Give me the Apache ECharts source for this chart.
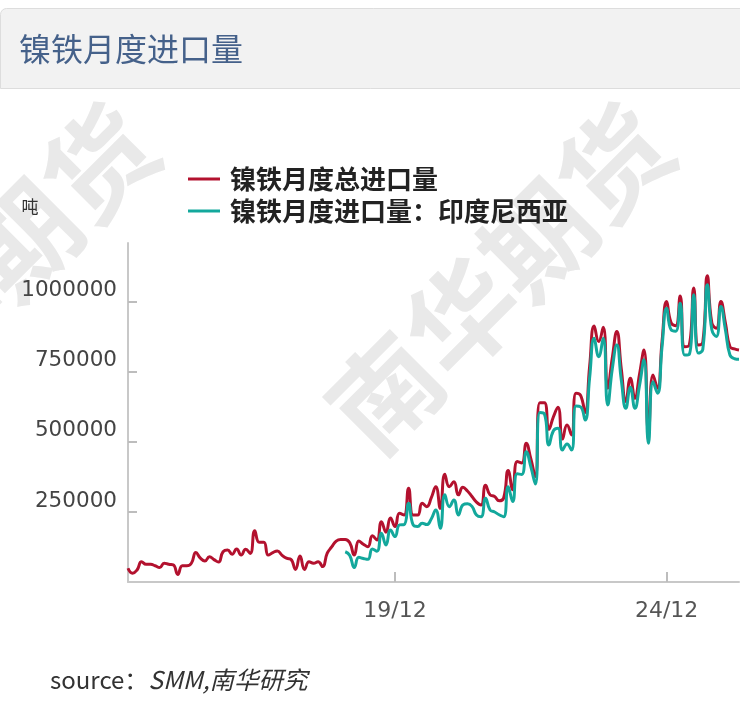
<!DOCTYPE html>
<html>
<head>
<meta charset="utf-8">
<script src="https://cdn.jsdelivr.net/npm/echarts@6/dist/echarts.min.js"></script>
<style>
html,body{margin:0;padding:0;background:#fff;}
#c{width:740px;height:702px;}
</style>
</head>
<body>
<div id="c"></div>
<script>
// ---- data ----
const startYear = 2015;
const startMonth = 1;
const monthCount = 136;

const totalImports = [
  49000, 31000, 43000, 72000, 63000, 63000, 58000, 52000, 67000, 63000,
  61000, 27000, 58000, 58000, 67000, 105000, 85000, 75000, 90000, 80000,
  71000, 108000, 114000, 99000, 118000, 96000, 117000, 102000, 183000, 142000,
  142000, 96000, 105000, 111000, 96000, 85000, 81000, 45000, 93000, 45000,
  72000, 67000, 72000, 55000, 102000, 125000, 146000, 152000, 152000, 140000,
  96000, 146000, 135000, 126000, 165000, 150000, 215000, 178000, 228000, 198000,
  245000, 239000, 335000, 239000, 239000, 281000, 269000, 300000, 340000, 263000,
  385000, 340000, 358000, 311000, 338000, 325000, 305000, 285000, 275000, 345000,
  311000, 305000, 290000, 300000, 398000, 329000, 430000, 425000, 495000, 440000,
  376000, 640000, 640000, 545000, 590000, 624000, 510000, 560000, 525000, 674000,
  666000, 605000, 770000, 914000, 858000, 909000, 692000, 800000, 894000, 760000,
  644000, 727000, 656000, 740000, 828000, 530000, 739000, 692000, 860000, 1001000,
  925000, 915000, 1021000, 840000, 845000, 1049000, 846000, 855000, 1093000, 924000,
  906000, 1001000, 924000, 840000, 832000, 828000
];

const indonesiaStart = '19/01';
const indonesiaImports = [
  108000, 95000, 52000, 88000, 84000, 81000, 118000, 110000, 174000, 132000,
  186000, 162000, 204000, 205000, 281000, 204000, 198000, 210000, 205000, 225000,
  257000, 192000, 311000, 269000, 293000, 239000, 275000, 279000, 270000, 239000,
  233000, 299000, 257000, 250000, 240000, 233000, 340000, 287000, 386000, 384000,
  465000, 412000, 350000, 605000, 600000, 489000, 540000, 549000, 471000, 493000,
  471000, 628000, 625000, 578000, 730000, 870000, 804000, 870000, 632000, 760000,
  846000, 720000, 620000, 695000, 620000, 700000, 793000, 495000, 715000, 674000,
  840000, 977000, 900000, 895000, 995000, 810000, 812000, 1025000, 817000, 830000,
  1061000, 900000, 876000, 983000, 900000, 810000, 797000, 795000
];

const yTicks = [250000, 500000, 750000, 1000000];
const xTickLabels = ['19/12', '24/12'];

const seriesNames = ['镍铁月度总进口量', '镍铁月度进口量：印度尼西亚'];

// ---- build ----
const categories = [];
for (let k = 0; k < monthCount; k++) {
  const y = startYear + Math.floor((startMonth - 1 + k) / 12);
  const m = (startMonth - 1 + k) % 12 + 1;
  categories.push(String(y % 100).padStart(2, '0') + '/' + String(m).padStart(2, '0'));
}
const indoOffset = categories.indexOf(indonesiaStart);
const indoData = categories.map((c, i) => {
  const j = i - indoOffset;
  return (j >= 0 && j < indonesiaImports.length) ? indonesiaImports[j] : null;
});

const showX = (i, v) => xTickLabels.indexOf(v) >= 0;

const chart = echarts.init(document.getElementById('c'), null, {renderer: 'canvas'});

const wmFont = 'bold 108px "Noto Sans CJK SC"';

const option = {
  animation: false,
  backgroundColor: '#ffffff',
  title: {
    text: '镍铁月度进口量',
    left: 19,
    top: 33,
    padding: 0,
    textStyle: {fontSize: 32, fontWeight: 'normal', color: '#45618a', fontFamily: 'Noto Sans CJK SC'}
  },
  legend: {
    orient: 'vertical',
    left: 183,
    top: 161,
    icon: 'rect',
    itemWidth: 32,
    itemHeight: 3,
    itemGap: 6,
    data: seriesNames,
    textStyle: {fontSize: 26, fontWeight: 'bold', color: '#222', fontFamily: 'Noto Sans CJK SC', padding: [0, 0, 0, 5]}
  },
  grid: {left: 128, right: 1, top: 243, bottom: 120, containLabel: false, outerBoundsMode: 'none'},
  xAxis: {
    type: 'category',
    data: categories,
    boundaryGap: false,
    axisLine: {show: true, lineStyle: {color: '#c8c8c8', width: 2}},
    axisTick: {show: true, inside: true, length: 10, interval: showX, lineStyle: {color: '#bdbdbd', width: 2}},
    axisLabel: {interval: showX, fontSize: 22, color: '#555', margin: 18, fontFamily: 'DejaVu Sans'},
    splitLine: {show: false}
  },
  yAxis: {
    type: 'value',
    min: 0,
    max: 1210000,
    interval: 250000,
    axisLine: {show: true, lineStyle: {color: '#c8c8c8', width: 2}},
    axisTick: {show: true, inside: true, length: 9, customValues: yTicks, lineStyle: {color: '#bdbdbd', width: 2}},
    axisLabel: {
      customValues: yTicks, fontSize: 21.5, color: '#444', margin: 11, verticalAlign: 'bottom',
      fontFamily: 'DejaVu Sans', formatter: v => String(v)
    },
    splitLine: {show: false}
  },
  series: [
    {
      name: seriesNames[0], type: 'line', data: totalImports, smooth: true,
      symbol: 'none', showSymbol: false,
      lineStyle: {color: '#b3112e', width: 3}, itemStyle: {color: '#b3112e'}
    },
    {
      name: seriesNames[1], type: 'line', data: indoData, smooth: true,
      symbol: 'none', showSymbol: false, connectNulls: false,
      lineStyle: {color: '#13a89c', width: 3}, itemStyle: {color: '#13a89c'}
    }
  ],
  graphic: {
    elements: [
      {
        type: 'rect', z: -20, silent: true,
        shape: {x: 0.5, y: 8.5, width: 760, height: 80, r: [6, 0, 0, 0]},
        style: {fill: '#f2f2f2', stroke: '#dddddd', lineWidth: 1}
      },
      {
        type: 'text', z: -10, silent: true, x: 500, y: 278, rotation: Math.PI / 4,
        style: {text: '南华期货', font: wmFont, fill: '#e9e9e9', align: 'center', verticalAlign: 'middle'}
      },
      {
        type: 'text', z: -10, silent: true, x: -15, y: 278, rotation: Math.PI / 4,
        style: {text: '南华期货', font: wmFont, fill: '#e9e9e9', align: 'center', verticalAlign: 'middle'}
      },
      {
        type: 'text', z: 10, silent: true, x: 30, y: 207,
        style: {text: '吨', font: '17px "Noto Sans CJK SC"', fill: '#333', align: 'center', verticalAlign: 'middle'}
      },
      {
        type: 'text', z: 10, silent: true, x: 50, y: 680,
        style: {
          text: '{a|source：}{b|SMM,南华研究}',
          verticalAlign: 'middle',
          rich: {
            a: {fontSize: 24, fontFamily: 'Noto Sans CJK SC', fill: '#333'},
            b: {fontSize: 24.5, fontFamily: 'Noto Sans CJK SC', fontStyle: 'italic', fill: '#333'}
          }
        }
      }
    ]
  }
};

chart.setOption(option);
</script>
</body>
</html>
